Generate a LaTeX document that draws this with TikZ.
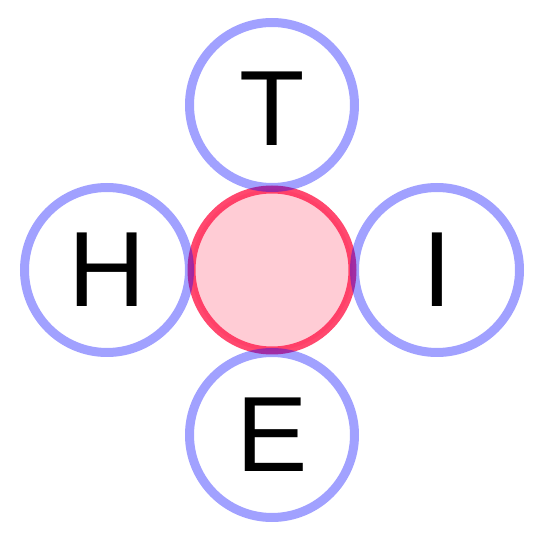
\documentclass[tikz,border=0pt]{standalone}
\usepackage{fontspec}
\setmainfont{Liberation Sans}
\definecolor{ringblue}{RGB}{0,0,255}
\definecolor{corered}{RGB}{255,40,85}
\definecolor{corefill}{RGB}{255,204,213}
\begin{document}
\begin{tikzpicture}[x=1pt,y=1pt,
  core/.style={circle,draw=corered,draw opacity=0.85,fill=corefill,line width=8pt,minimum size=161pt,inner sep=0pt},
  ring/.style={circle,draw=ringblue,draw opacity=0.37,line width=9pt,minimum size=165pt,inner sep=0pt},
  letter/.style={font=\fontsize{107}{107}\selectfont,inner sep=0pt}]
\useasboundingbox (0,0) rectangle (545,552);
\node[core] (c) at (272,282) {};
\node[ring] (t) at (272,447) {};
\node[ring] (h) at (107,282) {};
\node[ring] (i) at (437,282) {};
\node[ring] (e) at (272,117) {};
\node[letter] (lt) at ([yshift=-4pt]t.center) {T};
\node[letter] (lh) at (h.center) {H};
\node[letter] (li) at (i.center) {I};
\node[letter] (le) at (e.center) {E};
\end{tikzpicture}
\end{document}
